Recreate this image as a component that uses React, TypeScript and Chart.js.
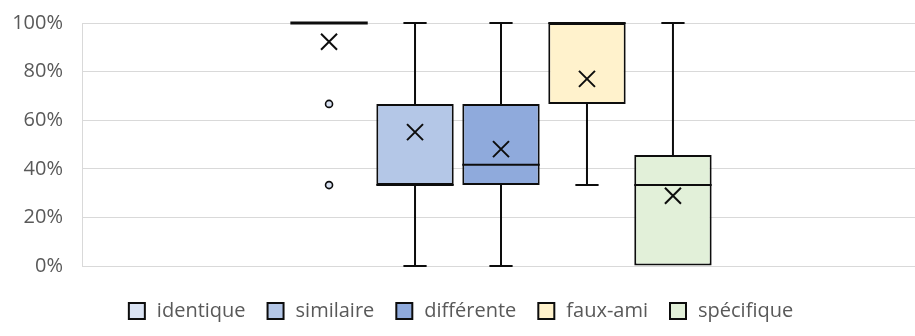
import React, { useEffect, useRef } from "react";
import { Chart, registerables } from "chart.js";

Chart.register(...registerables);

const categories = [""];
const seriesNames = ["identique", "similaire", "différente", "faux-ami", "spécifique"];
const seriesColors = ["#dae3f3", "#b4c7e7", "#8faadc", "#fff2cc", "#e2f0d9"];
const minValues = [1, 0, 0, 0.333, 0];
const q1Values = [1, 0.333, 0.333, 0.667, 0];
const medianValues = [1, 0.333, 0.417, 1, 0.333];
const q3Values = [1, 0.667, 0.667, 1, 0.457];
const maxValues = [1, 1, 1, 1, 1];
const meanValues = [0.923, 0.551, 0.481, 0.77, 0.289];
const outlierValues: number[][] = [[0.667, 0.333], [], [], [], []];
const yTicks = [0, 0.2, 0.4, 0.6, 0.8, 1];

const boxPlotPlugin = {
  id: "boxPlotExtras",
  afterDatasetsDraw(chart: any) {
    const ctx = chart.ctx;
    const ys = chart.scales.y;
    ctx.save();
    seriesNames.forEach((_, i) => {
      const meta = chart.getDatasetMeta(i);
      const bar = meta.data[0];
      if (!bar) return;
      const x = bar.x;
      const w = bar.width;
      const yMin = ys.getPixelForValue(minValues[i]);
      const yQ1 = ys.getPixelForValue(q1Values[i]);
      const yQ3 = ys.getPixelForValue(q3Values[i]);
      const yMax = ys.getPixelForValue(maxValues[i]);
      const yMed = ys.getPixelForValue(medianValues[i]);
      const yMean = ys.getPixelForValue(meanValues[i]);
      const cap = w * 0.3;
      ctx.strokeStyle = "#0d0d0d";
      ctx.lineWidth = 2;
      ctx.lineCap = "butt";
      if (minValues[i] < q1Values[i]) {
        ctx.beginPath();
        ctx.moveTo(x, yQ1);
        ctx.lineTo(x, yMin);
        ctx.moveTo(x - cap / 2, yMin);
        ctx.lineTo(x + cap / 2, yMin);
        ctx.stroke();
      }
      if (maxValues[i] > q3Values[i]) {
        ctx.beginPath();
        ctx.moveTo(x, yQ3);
        ctx.lineTo(x, yMax);
        ctx.moveTo(x - cap / 2, yMax);
        ctx.lineTo(x + cap / 2, yMax);
        ctx.stroke();
      }
      ctx.beginPath();
      ctx.lineWidth = q1Values[i] === q3Values[i] ? 3 : 2;
      ctx.moveTo(x - w / 2, yMed);
      ctx.lineTo(x + w / 2, yMed);
      ctx.stroke();
      const s = 8;
      ctx.lineWidth = 2;
      ctx.beginPath();
      ctx.moveTo(x - s, yMean - s);
      ctx.lineTo(x + s, yMean + s);
      ctx.moveTo(x + s, yMean - s);
      ctx.lineTo(x - s, yMean + s);
      ctx.stroke();
      outlierValues[i].forEach((v) => {
        const yo = ys.getPixelForValue(v);
        ctx.beginPath();
        ctx.arc(x, yo, 3.5, 0, Math.PI * 2);
        ctx.fillStyle = seriesColors[i];
        ctx.fill();
        ctx.lineWidth = 1.6;
        ctx.stroke();
      });
    });
    ctx.restore();
  },
};

export default function App() {
  const ref = useRef<HTMLCanvasElement | null>(null);
  useEffect(() => {
    if (!ref.current) return;
    const chart = new Chart(ref.current, {
      type: "bar",
      data: {
        labels: categories,
        datasets: seriesNames.map((name, i) => ({
          label: name,
          data: [[q1Values[i], q3Values[i]]] as any,
          backgroundColor: seriesColors[i],
          borderColor: "#0d0d0d",
          borderWidth: 2,
          borderSkipped: false,
          categoryPercentage: 0.513,
          barPercentage: 0.9,
        })),
      },
      options: {
        responsive: false,
        animation: false,
        devicePixelRatio: 1,
        layout: { padding: { top: 23, right: 0, bottom: 5, left: 0 } },
        plugins: {
          tooltip: { enabled: false },
          legend: {
            position: "bottom",
            labels: {
              usePointStyle: true,
              pointStyle: "rect",
              boxWidth: 20,
              boxHeight: 16,
              padding: 20,
              color: "#595959",
              font: { family: "'Open Sans'", size: 20 },
              generateLabels: () =>
                seriesNames.map((name, i) => ({
                  text: name,
                  fillStyle: seriesColors[i],
                  strokeStyle: "#0d0d0d",
                  lineWidth: 2,
                  pointStyle: "rect",
                  hidden: false,
                  datasetIndex: i,
                  fontColor: "#595959",
                })),
            },
          },
        },
        scales: {
          x: {
            display: true,
            grid: { display: false },
            border: { display: false },
            ticks: { display: false },
            afterFit: (s: any) => {
              s.height = 15;
              s.paddingLeft = 0;
              s.paddingRight = 0;
            },
          },
          y: {
            min: 0,
            max: 1,
            afterFit: (s: any) => {
              s.width = 82;
              s.paddingTop = 0;
              s.paddingBottom = 0;
            },
            afterBuildTicks: (s: any) => {
              s.ticks = yTicks.map((v) => ({ value: v }));
            },
            border: { display: true, color: "#d9d9d9", width: 1 },
            grid: { color: "#d9d9d9", lineWidth: 1, drawTicks: false },
            ticks: {
              padding: 19,
              color: "#595959",
              font: { family: "'Open Sans'", size: 20 },
              callback: (v: any) => Math.round(Number(v) * 100) + "%",
            },
          },
        },
      },
      plugins: [boxPlotPlugin],
    });
    return () => chart.destroy();
  }, []);
  return (
    <div
      style={{
        position: "fixed",
        left: 0,
        top: 0,
        width: 915,
        height: 336,
        overflow: "hidden",
        background: "#fff",
      }}
    >
      <canvas ref={ref} width={920} height={336} style={{ width: 920, height: 336 }} />
    </div>
  );
}
